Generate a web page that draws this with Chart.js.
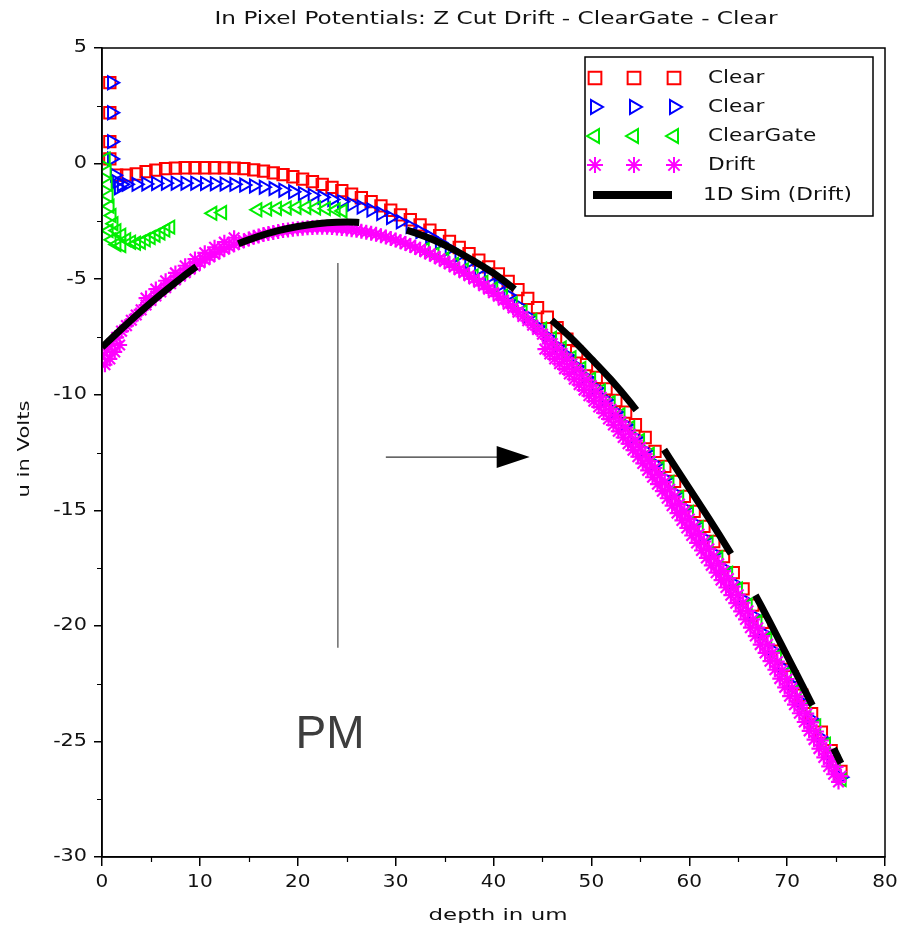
<!DOCTYPE html>
<html>
<head>
<meta charset="utf-8">
<script src="https://cdn.jsdelivr.net/npm/chart.js@4.4.1/dist/chart.umd.min.js"></script>
<style>
html,body{margin:0;padding:0;background:#fff;}
#wrap{width:900px;height:930px;position:relative;}
</style>
</head>
<body>
<div id="wrap"><canvas id="c" width="900" height="930"></canvas></div>
<script>
// ---------------- text ----------------
const TITLE = 'In Pixel Potentials: Z Cut Drift - ClearGate - Clear';
const X_TITLE = 'depth in um';
const Y_TITLE = 'u in Volts';
const NOTE_TEXT = 'PM';
const legendLabels = ['Clear', 'Clear', 'ClearGate', 'Drift', '1D Sim (Drift)'];

// ---------------- ticks ----------------
const xTickValues = [0, 10, 20, 30, 40, 50, 60, 70, 80];
const xTickLabels = ['0', '10', '20', '30', '40', '50', '60', '70', '80'];
const xMinorTicks = [5, 15, 25, 35, 45, 55, 65, 75];
const yTickValues = [5, 0, -5, -10, -15, -20, -25, -30];
const yTickLabels = ['5', '0', '-5', '-10', '-15', '-20', '-25', '-30'];
const yMinorTicks = [2.5, -2.5, -7.5, -12.5, -17.5, -22.5, -27.5];

// ---------------- data: Clear (red squares) ----------------
const clearRedX = [0.8,0.8,0.8,0.8,1.5,2.5,3.5,4.5,5.5,6.5,7.5,8.5,9.5,10.5,11.5,12.5,13.5,14.5,15.5,16.5,17.5,18.5,19.5,20.5,21.5,22.5,23.5,24.5,25.5,26.5,27.5,28.5,29.5,30.5,31.5,32.5,33.5,34.5,35.5,36.5,37.5,38.5,39.5,40.5,41.5,42.5,43.5,44.5,45.5,46.5,47.5,48.5,49.5,50.5,51.5,52.5,53.5,54.5,55.5,56.5,57.5,58.5,59.5,60.5,61.5,62.5,63.5,64.5,65.5,66.5,67.5,68.5,69.5,70.5,71.5,72.5,73.5,74.5,75.5];
const clearRedY = [3.5,2.2,0.95,0.2,-0.5,-0.5,-0.45,-0.35,-0.28,-0.22,-0.2,-0.18,-0.18,-0.18,-0.18,-0.19,-0.2,-0.22,-0.27,-0.33,-0.4,-0.48,-0.57,-0.67,-0.78,-0.9,-1.03,-1.17,-1.32,-1.48,-1.65,-1.83,-2.02,-2.22,-2.43,-2.65,-2.88,-3.12,-3.37,-3.63,-3.9,-4.18,-4.47,-4.77,-5.1,-5.45,-5.83,-6.23,-6.65,-7.1,-7.6,-8.15,-8.7,-9.25,-9.75,-10.25,-10.75,-11.3,-11.85,-12.45,-13.1,-13.75,-14.4,-15.05,-15.7,-16.35,-17.0,-17.7,-18.4,-19.1,-19.85,-20.6,-21.4,-22.2,-23.0,-23.8,-24.6,-25.4,-26.3];

// ---------------- data: Clear (blue right triangles) ----------------
const clearBlueX = [1.0,1.0,1.0,1.0,1.3,1.5,1.7,2.0,2.5,3.5,4.5,5.5,6.5,7.5,8.5,9.5,10.5,11.5,12.5,13.5,14.5,15.5,16.5,17.5,18.5,19.5,20.5,21.5,22.5,23.5,24.5,25.5,26.5,27.5,28.5,29.5,30.5,31.5,32.5,33.5,34.5,35.5,36.5,37.5,38.5,39.5,40.5,41.5,42.5,43.5,44.5,45.5,46.5,47.5,48.5,49.5,50.5,51.5,52.5,53.5,54.5,55.5,56.5,57.5,58.5,59.5,60.5,61.5,62.5,63.5,64.5,65.5,66.5,67.5,68.5,69.5,70.5,71.5,72.5,73.5,74.5,75.5];
const clearBlueY = [3.5,2.2,0.95,0.2,-0.5,-0.8,-1.05,-0.9,-0.9,-0.9,-0.88,-0.86,-0.85,-0.85,-0.85,-0.85,-0.86,-0.87,-0.88,-0.9,-0.93,-0.97,-1.02,-1.08,-1.15,-1.22,-1.3,-1.38,-1.46,-1.55,-1.65,-1.76,-1.88,-2.01,-2.16,-2.33,-2.52,-2.72,-2.94,-3.17,-3.42,-3.68,-3.96,-4.26,-4.58,-4.92,-5.3,-5.7,-6.15,-6.6,-7.05,-7.48,-7.9,-8.3,-8.78,-9.25,-9.72,-10.22,-10.75,-11.3,-11.85,-12.42,-13.0,-13.62,-14.25,-14.9,-15.55,-16.2,-16.85,-17.5,-18.15,-18.85,-19.55,-20.3,-21.05,-21.8,-22.55,-23.3,-24.05,-24.85,-25.65,-26.55];

// ---------------- data: ClearGate (green left triangles) ----------------
const clearGateX = [0.4,0.5,0.6,0.7,0.8,1.0,1.2,1.5,0.7,1.0,1.5,2.0,2.0,2.5,3.0,3.5,4.0,4.5,5.0,5.5,6.0,6.5,7.0,11.3,12.3,15.9,16.9,17.9,18.9,19.9,20.9,21.9,22.9,23.9,24.6,33,34,35,36,37,38,39,40,41,42,43,44,45,46,47,48,49,50,51,52,53,54,55,56,57,58,59,60,61,62,63,64,65,66,67,68,69,70,71,72,73,74,75,75.6];
const clearGateY = [0.2,-0.35,-0.9,-1.4,-1.85,-2.25,-2.6,-2.9,-2.9,-3.3,-3.5,-3.1,-3.55,-3.3,-3.4,-3.45,-3.4,-3.3,-3.2,-3.1,-3.0,-2.88,-2.75,-2.15,-2.12,-2.0,-1.97,-1.94,-1.92,-1.9,-1.9,-1.92,-1.95,-2.0,-2.05,-3.72,-3.92,-4.13,-4.36,-4.6,-4.86,-5.13,-5.42,-5.73,-6.06,-6.41,-6.78,-7.16,-7.56,-7.98,-8.4,-8.86,-9.33,-9.83,-10.34,-10.87,-11.42,-11.98,-12.57,-13.18,-13.8,-14.44,-15.1,-15.75,-16.4,-17.05,-17.72,-18.4,-19.1,-19.82,-20.55,-21.3,-22.05,-22.8,-23.55,-24.33,-25.12,-25.92,-26.65];

// ---------------- data: Drift (magenta asterisks), main row ----------------
const driftX = [0,0.5,1,1.5,2,2.5,3,3.5,4,4.5,5,5.5,6,6.5,7,7.5,8,8.5,9,9.5,10,10.5,11,11.5,12,12.5,13,13.5,14,14.5,15,15.5,16,16.5,17,17.5,18,18.5,19,19.5,20,20.5,21,21.5,22,22.5,23,23.5,24,24.5,25,25.5,26,26.5,27,27.5,28,28.5,29,29.5,30,30.5,31,31.5,32,32.5,33,33.5,34,34.5,35,35.5,36,36.5,37,37.5,38,38.5,39,39.5,40,40.5,41,41.5,42,42.5,43,43.5,44,44.5,45,45.5,46,46.5,47,47.5,48,48.5,49,49.5,50,50.5,51,51.5,52,52.5,53,53.5,54,54.5,55,55.5,56,56.5,57,57.5,58,58.5,59,59.5,60,60.5,61,61.5,62,62.5,63,63.5,64,64.5,65,65.5,66,66.5,67,67.5,68,68.5,69,69.5,70,70.5,71,71.5,72,72.5,73,73.5,74,74.5,75,75.5];
const driftY = [-8.3,-8.05,-7.8,-7.52,-7.25,-7.01,-6.78,-6.55,-6.33,-6.12,-5.92,-5.73,-5.55,-5.37,-5.2,-5.03,-4.87,-4.72,-4.57,-4.43,-4.29,-4.16,-4.04,-3.92,-3.81,-3.7,-3.6,-3.51,-3.42,-3.34,-3.26,-3.19,-3.13,-3.07,-3.02,-2.98,-2.94,-2.9,-2.87,-2.84,-2.82,-2.8,-2.78,-2.77,-2.76,-2.76,-2.76,-2.77,-2.79,-2.81,-2.83,-2.86,-2.89,-2.93,-2.97,-3.01,-3.06,-3.12,-3.18,-3.24,-3.31,-3.38,-3.46,-3.54,-3.63,-3.71,-3.81,-3.91,-4.01,-4.12,-4.23,-4.34,-4.47,-4.59,-4.72,-4.85,-4.99,-5.13,-5.28,-5.43,-5.59,-5.74,-5.91,-6.08,-6.25,-6.43,-6.61,-6.8,-6.99,-7.18,-7.38,-7.58,-7.79,-8.0,-8.22,-8.44,-8.67,-8.9,-9.13,-9.37,-9.61,-9.86,-10.11,-10.37,-10.63,-10.89,-11.16,-11.43,-11.71,-11.99,-12.28,-12.57,-12.87,-13.17,-13.47,-13.78,-14.09,-14.41,-14.73,-15.05,-15.38,-15.7,-16.03,-16.35,-16.67,-16.99,-17.31,-17.63,-17.95,-18.3,-18.65,-19.0,-19.35,-19.72,-20.08,-20.44,-20.8,-21.17,-21.55,-21.92,-22.3,-22.68,-23.05,-23.42,-23.8,-24.18,-24.57,-24.96,-25.35,-25.72,-26.1,-26.5];
// ---------------- data: Drift, scattered second row (band edges) ----------------
const driftEdgeX = [0.3,0.8,1.3,1.8,4.5,5.5,6.5,7.5,8.5,9.5,10.5,11.5,12.5,13.5,45.25,45.75,46.25,46.75,47.25,47.75,48.25,48.75,49.25,49.75,50.25,50.75,51.25,51.75,52.25,52.75,53.25,53.75,54.25,54.75,55.25,55.75,56.25,56.75,57.25,57.75,58.25,58.75,59.25,59.75,60.25,60.75,61.25,61.75,62.25,62.75,63.25,63.75,64.25,64.75,65.25,65.75,66.25,66.75,67.25,67.75,68.25,68.75,69.25,69.75,70.25,70.75,71.25,71.75,72.25,72.75,73.25,73.75,74.25,74.75,75.25];
const driftEdgeY = [-8.7,-8.45,-8.15,-7.85,-5.82,-5.43,-5.07,-4.73,-4.42,-4.13,-3.86,-3.62,-3.4,-3.21,-8.03,-8.24,-8.45,-8.66,-8.88,-9.1,-9.33,-9.56,-9.8,-10.04,-10.28,-10.53,-10.79,-11.05,-11.31,-11.58,-11.85,-12.12,-12.4,-12.68,-12.97,-13.27,-13.57,-13.87,-14.17,-14.48,-14.8,-15.12,-15.44,-15.76,-16.09,-16.41,-16.74,-17.06,-17.38,-17.7,-18.02,-18.34,-18.67,-19.02,-19.37,-19.72,-20.08,-20.44,-20.81,-21.17,-21.53,-21.9,-22.28,-22.66,-23.04,-23.41,-23.78,-24.16,-24.54,-24.92,-25.31,-25.69,-26.08,-26.42,-26.75];

// ---------------- data: 1D Sim (Drift) (black dashed) ----------------
const simX = [0,2,4,6,8,10,12,14,16,18,20,22,24,26,28,30,32,34,36,38,40,42,44,46,48,50,52,54,56,58,60,62,64,66,68,70,72,74,75.5];
const simY = [-7.95,-7.15,-6.38,-5.66,-4.98,-4.36,-3.86,-3.46,-3.15,-2.9,-2.72,-2.6,-2.54,-2.54,-2.62,-2.74,-3.0,-3.33,-3.74,-4.22,-4.74,-5.38,-6.08,-6.8,-7.58,-8.45,-9.35,-10.35,-11.45,-12.75,-14.05,-15.35,-16.7,-18.1,-19.65,-21.3,-22.95,-24.65,-25.95];

// ---------------- annotations (data coordinates) ----------------
const pmLineX = 24.1, pmLineY = [-4.3, -20.95];
const arrowX = [29.0, 43.7], arrowY = -12.7;
const pmTextPos = [23.3, -25.3];

function zip(xs, ys) {
  const n = Math.min(xs.length, ys.length);
  const out = [];
  for (let i = 0; i < n; i++) out.push({x: xs[i], y: ys[i]});
  return out;
}

const FONT = '"DejaVu Sans", Verdana, sans-serif';

function stretchText(ctx, s, x, y, size, targetW, align, color) {
  ctx.save();
  ctx.font = size + 'px ' + FONT;
  ctx.fillStyle = color || '#111';
  ctx.textBaseline = 'middle';
  const w = ctx.measureText(s).width;
  const sx = targetW ? targetW / w : 1;
  ctx.translate(x, y);
  ctx.scale(sx, 1);
  ctx.textAlign = align || 'center';
  ctx.fillText(s, 0, 0);
  ctx.restore();
}
function scaledText(ctx, s, x, y, size, sx, align, color) {
  ctx.save();
  ctx.font = size + 'px ' + FONT;
  ctx.fillStyle = color || '#111';
  ctx.textBaseline = 'middle';
  ctx.translate(x, y);
  ctx.scale(sx, 1);
  ctx.textAlign = align || 'center';
  ctx.fillText(s, 0, 0);
  ctx.restore();
}

const datasets = [
  {label: legendLabels[0], data: zip(clearRedX, clearRedY), pointStyle: 'rect', pointRadius: 8,
   pointBorderColor: '#ff0000', pointBackgroundColor: 'rgba(0,0,0,0)', pointBorderWidth: 2, borderColor: '#ff0000', order: 4},
  {label: legendLabels[1], data: zip(clearBlueX, clearBlueY), pointStyle: 'triangle', pointRotation: 90, pointRadius: 7.5,
   pointBorderColor: '#0000ff', pointBackgroundColor: 'rgba(0,0,0,0)', pointBorderWidth: 2, borderColor: '#0000ff', order: 3},
  {label: legendLabels[2], data: zip(clearGateX, clearGateY), pointStyle: 'triangle', pointRotation: -90, pointRadius: 7.5,
   pointBorderColor: '#00ee00', pointBackgroundColor: 'rgba(0,0,0,0)', pointBorderWidth: 2, borderColor: '#00ee00', order: 2},
  {label: legendLabels[3], data: zip(driftX, driftY).concat(zip(driftEdgeX, driftEdgeY)), pointStyle: 'star', pointRadius: 7.5,
   pointBorderColor: '#ff00ff', pointBackgroundColor: 'rgba(0,0,0,0)', pointBorderWidth: 2.2, borderColor: '#ff00ff', order: 1},
  {label: legendLabels[4], data: zip(simX, simY), showLine: true, pointRadius: 0, borderColor: '#000', borderWidth: 7,
   borderDash: [124, 48], borderCapStyle: 'butt', tension: 0.3, order: 0}
];

const decorPlugin = {
  id: 'decor',
  afterDraw(chart) {
    const {ctx, chartArea: a, scales: {x, y}} = chart;
    ctx.save();
    // frame
    ctx.strokeStyle = '#000';
    ctx.lineWidth = 1.5;
    ctx.strokeRect(a.left, a.top, a.right - a.left, a.bottom - a.top);
    // minor ticks
    ctx.lineWidth = 1.2;
    ctx.beginPath();
    xMinorTicks.forEach(v => {
      const px = Math.round(x.getPixelForValue(v)) + 0.5;
      ctx.moveTo(px, a.bottom); ctx.lineTo(px, a.bottom + 5);
    });
    yMinorTicks.forEach(v => {
      const py = Math.round(y.getPixelForValue(v)) + 0.5;
      ctx.moveTo(a.left, py); ctx.lineTo(a.left - 5, py);
    });
    ctx.stroke();
    // tick labels
    xTickValues.forEach((v, i) => {
      scaledText(ctx, xTickLabels[i], x.getPixelForValue(v), a.bottom + 26, 17, 1.18, 'center', '#111');
    });
    yTickValues.forEach((v, i) => {
      scaledText(ctx, yTickLabels[i], a.left - 15, y.getPixelForValue(v), 17, 1.22, 'right', '#111');
    });
    // titles
    stretchText(ctx, TITLE, 496, 20, 17, 563, 'center', '#111');
    stretchText(ctx, X_TITLE, 498, 916, 16, 139, 'center', '#111');
    ctx.save();
    ctx.translate(25, 449);
    ctx.rotate(-Math.PI / 2);
    stretchText(ctx, Y_TITLE, 0, 0, 16, 97, 'center', '#111');
    ctx.restore();

    // annotations
    const lx = x.getPixelForValue(pmLineX);
    ctx.strokeStyle = '#555';
    ctx.lineWidth = 1.3;
    ctx.beginPath();
    ctx.moveTo(lx, y.getPixelForValue(pmLineY[0]));
    ctx.lineTo(lx, y.getPixelForValue(pmLineY[1]));
    ctx.stroke();
    const ay = y.getPixelForValue(arrowY);
    const ax0 = x.getPixelForValue(arrowX[0]);
    const ax1 = x.getPixelForValue(arrowX[1]);
    ctx.strokeStyle = '#333';
    ctx.beginPath();
    ctx.moveTo(ax0, ay); ctx.lineTo(ax1 - 30, ay);
    ctx.stroke();
    ctx.fillStyle = '#000';
    ctx.beginPath();
    ctx.moveTo(ax1, ay); ctx.lineTo(ax1 - 33, ay - 11); ctx.lineTo(ax1 - 33, ay + 11); ctx.closePath();
    ctx.fill();
    ctx.font = '46px "Liberation Sans", Arial, sans-serif';
    ctx.fillStyle = '#3d3d3d';
    ctx.textAlign = 'center';
    ctx.textBaseline = 'alphabetic';
    ctx.fillText(NOTE_TEXT, x.getPixelForValue(pmTextPos[0]), y.getPixelForValue(pmTextPos[1]));

    // legend
    const L = {x: 585, y: 57, w: 288, h: 159};
    ctx.fillStyle = '#fff';
    ctx.fillRect(L.x, L.y, L.w, L.h);
    ctx.strokeStyle = '#000';
    ctx.lineWidth = 1.5;
    ctx.strokeRect(L.x, L.y, L.w, L.h);
    const rows = [78, 107, 136, 165, 195];
    const mx = [595, 634, 674];
    const drawPt = Chart.helpers && Chart.helpers.drawPoint;
    datasets.forEach((ds, i) => {
      const ry = rows[i];
      if (i < 4) {
        mx.forEach(px => {
          ctx.save();
          ctx.strokeStyle = ds.pointBorderColor;
          ctx.fillStyle = 'rgba(0,0,0,0)';
          ctx.lineWidth = 2;
          if (drawPt) {
            drawPt(ctx, {pointStyle: ds.pointStyle, rotation: ds.pointRotation || 0, radius: ds.pointStyle === 'rect' ? 9 : 8, borderWidth: 2}, px, ry);
          }
          ctx.restore();
        });
        scaledText(ctx, legendLabels[i], 708, ry, 18, 1.2, 'left', '#111');
      } else {
        ctx.fillStyle = '#000';
        ctx.fillRect(593, ry - 4, 79, 8);
        scaledText(ctx, legendLabels[i], 703, ry, 18, 1.2, 'left', '#111');
      }
    });
    ctx.restore();
  }
};

new Chart(document.getElementById('c'), {
  type: 'scatter',
  data: {datasets},
  options: {
    responsive: false,
    animation: false,
    devicePixelRatio: 1,
    layout: {padding: {top: 48, right: 15, left: 0, bottom: 0}},
    plugins: {legend: {display: false}, title: {display: false}, tooltip: {enabled: false}},
    scales: {
      x: {
        type: 'linear', min: 0, max: 80,
        ticks: {stepSize: 10, display: false},
        grid: {drawOnChartArea: false, drawTicks: true, tickLength: 9, color: '#000', lineWidth: 1.5},
        border: {color: '#000', width: 1.5},
        afterFit(s) { s.height = 73; }
      },
      y: {
        type: 'linear', min: -30, max: 5,
        ticks: {stepSize: 5, display: false},
        grid: {drawOnChartArea: false, drawTicks: true, tickLength: 8, color: '#000', lineWidth: 1.5},
        border: {color: '#000', width: 1.5},
        afterFit(s) { s.width = 102; }
      }
    }
  },
  plugins: [decorPlugin]
});
</script>
</body>
</html>
